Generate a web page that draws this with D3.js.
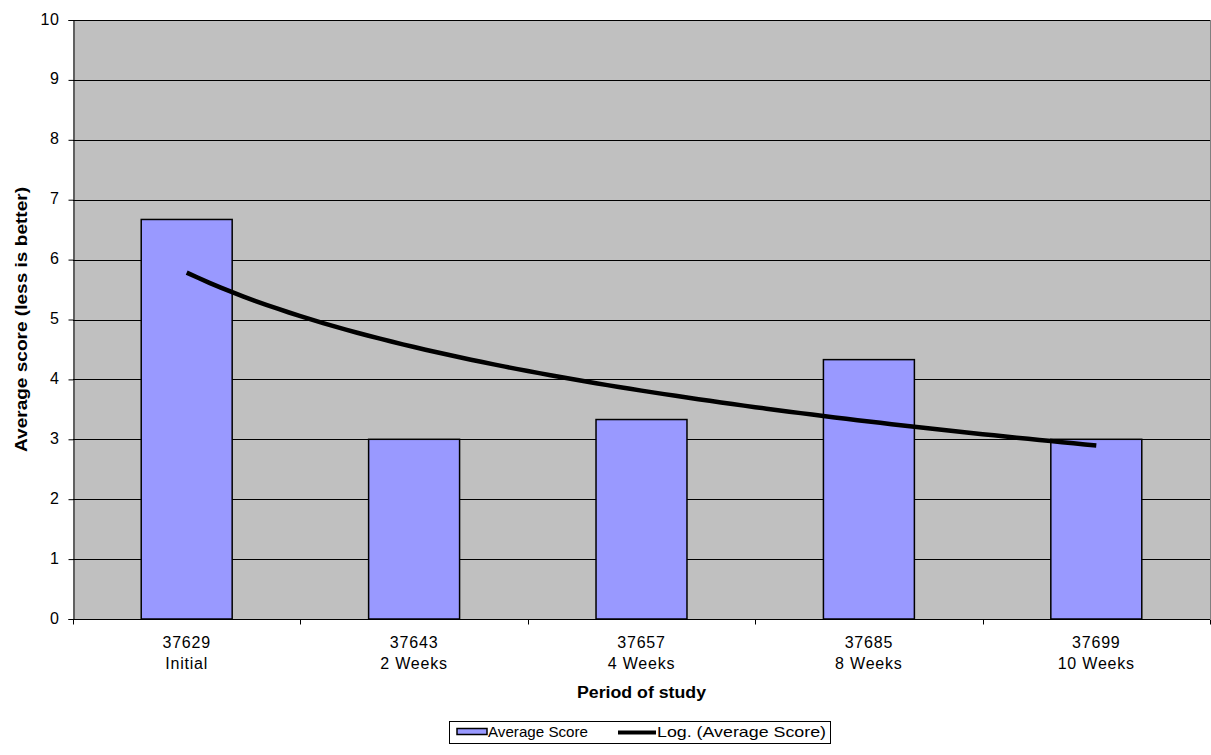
<!DOCTYPE html>
<html><head><meta charset="utf-8">
<script src="https://cdn.jsdelivr.net/npm/d3@7"></script>
<style>body{margin:0;background:#fff;}svg{display:block;font-family:"Liberation Sans",Arial,sans-serif;}</style>
</head><body>
<svg id="c" width="1211" height="755"></svg>
<script>
const codes = ["37629","37643","37657","37685","37699"];
const periods = ["Initial","2 Weeks","4 Weeks","8 Weeks","10 Weeks"];
const scores = [6.67, 3, 3.33, 4.33, 3];
const yTicks = [0,1,2,3,4,5,6,7,8,9,10];
const seriesName = "Average Score";
const trendName = "Log. (Average Score)";

const svg = d3.select("#c");
const L = 73, R = 1210, T = 20, B = 619;
const xc = d3.scaleBand().domain(d3.range(codes.length)).range([L, R]);
const y = d3.scaleLinear().domain([0, 10]).range([B, T]);

// plot background
svg.append("rect").attr("x", L).attr("y", T).attr("width", R - L).attr("height", B - T).attr("fill", "#c0c0c0");

// gridlines
svg.append("g").selectAll("line").data(yTicks.filter(d => d > 0)).join("line")
  .attr("x1", L).attr("x2", R).attr("y1", d => Math.round(y(d)) + 0.5).attr("y2", d => Math.round(y(d)) + 0.5)
  .attr("stroke", "#000").attr("stroke-width", 1);

// right border
svg.append("line").attr("x1", R + 0.5).attr("x2", R + 0.5).attr("y1", T).attr("y2", B).attr("stroke", "#808080");

// bars
svg.append("g").selectAll("rect").data(scores).join("rect")
  .attr("x", (d, i) => xc(i) + xc.bandwidth() * 0.3)
  .attr("width", xc.bandwidth() * 0.4)
  .attr("y", d => y(d))
  .attr("height", d => B - y(d))
  .attr("fill", "#9999ff").attr("stroke", "#000").attr("stroke-width", 1.5);

// logarithmic trendline (least squares fit of score vs ln(index))
const lx = scores.map((d, i) => Math.log(i + 1));
const mx = d3.mean(lx), my = d3.mean(scores);
const a = d3.sum(lx.map((l, i) => (l - mx) * (scores[i] - my))) / d3.sum(lx.map(l => (l - mx) * (l - mx)));
const b = my - a * mx;
const xt = d3.scaleLinear().domain([1, codes.length]).range([xc(0) + xc.bandwidth() / 2, xc(codes.length - 1) + xc.bandwidth() / 2]);
const pts = d3.range(1, codes.length + 0.001, 0.05).map(t => [xt(t), y(a * Math.log(t) + b)]);
svg.append("path").attr("d", d3.line()(pts)).attr("fill", "none").attr("stroke", "#000").attr("stroke-width", 4.5);

// y axis
const ya = svg.append("g").attr("transform", `translate(${L + 0.5},0)`)
  .call(d3.axisLeft(y).tickValues(yTicks).tickSize(5).tickPadding(9).tickFormat(d3.format("d")));
ya.select(".domain").attr("stroke", "#000");
ya.selectAll("line").attr("stroke", "#000");
ya.selectAll("text").attr("font-size", 16).attr("letter-spacing", 0.6).attr("fill", "#000")
  .attr("font-family", "Liberation Sans, Arial, sans-serif").attr("dy", "0.25em");

// x axis
const xa = svg.append("g").attr("transform", `translate(0,${B + 0.5})`);
xa.append("line").attr("x1", L).attr("x2", R).attr("stroke", "#000");
xa.selectAll(".tk").data(d3.range(codes.length + 1)).join("line")
  .attr("x1", i => Math.round(L + i * xc.step()) + 0.5).attr("x2", i => Math.round(L + i * xc.step()) + 0.5)
  .attr("y1", 0).attr("y2", 5).attr("stroke", "#000");
const lbl = xa.selectAll("text").data(codes).join("text")
  .attr("x", (d, i) => xc(i) + xc.bandwidth() / 2)
  .attr("text-anchor", "middle").attr("font-size", 16).attr("letter-spacing", 0.8).attr("fill", "#000");
lbl.append("tspan").attr("x", (d, i) => xc(i) + xc.bandwidth() / 2).attr("y", 28).text(d => d);
lbl.append("tspan").attr("x", (d, i) => xc(i) + xc.bandwidth() / 2).attr("y", 49.5).text((d, i) => periods[i]);

// axis titles
svg.append("text").attr("x", (L + R) / 2).attr("y", 698).attr("text-anchor", "middle")
  .attr("font-size", 16).attr("font-weight", "bold")
  .attr("textLength", 129).attr("lengthAdjust", "spacingAndGlyphs").text("Period of study");
svg.append("text").attr("transform", `translate(27,${(T + B) / 2}) rotate(-90)`).attr("text-anchor", "middle")
  .attr("font-size", 16).attr("font-weight", "bold")
  .attr("textLength", 265).attr("lengthAdjust", "spacingAndGlyphs").text("Average score (less is better)");

// legend
const lg = svg.append("g");
lg.append("rect").attr("x", 449.5).attr("y", 721.5).attr("width", 381).attr("height", 22).attr("fill", "#fff").attr("stroke", "#000");
lg.append("rect").attr("x", 457).attr("y", 728.5).attr("width", 30).attr("height", 6).attr("fill", "#9999ff").attr("stroke", "#000").attr("stroke-width", 1.5);
lg.append("text").attr("x", 488).attr("y", 737).attr("font-size", 15)
  .attr("textLength", 100).attr("lengthAdjust", "spacingAndGlyphs").text(seriesName);
lg.append("line").attr("x1", 618).attr("x2", 656).attr("y1", 732.5).attr("y2", 732.5).attr("stroke", "#000").attr("stroke-width", 4);
lg.append("text").attr("x", 657).attr("y", 737).attr("font-size", 15)
  .attr("textLength", 169).attr("lengthAdjust", "spacingAndGlyphs").text(trendName);
</script>
</body></html>
